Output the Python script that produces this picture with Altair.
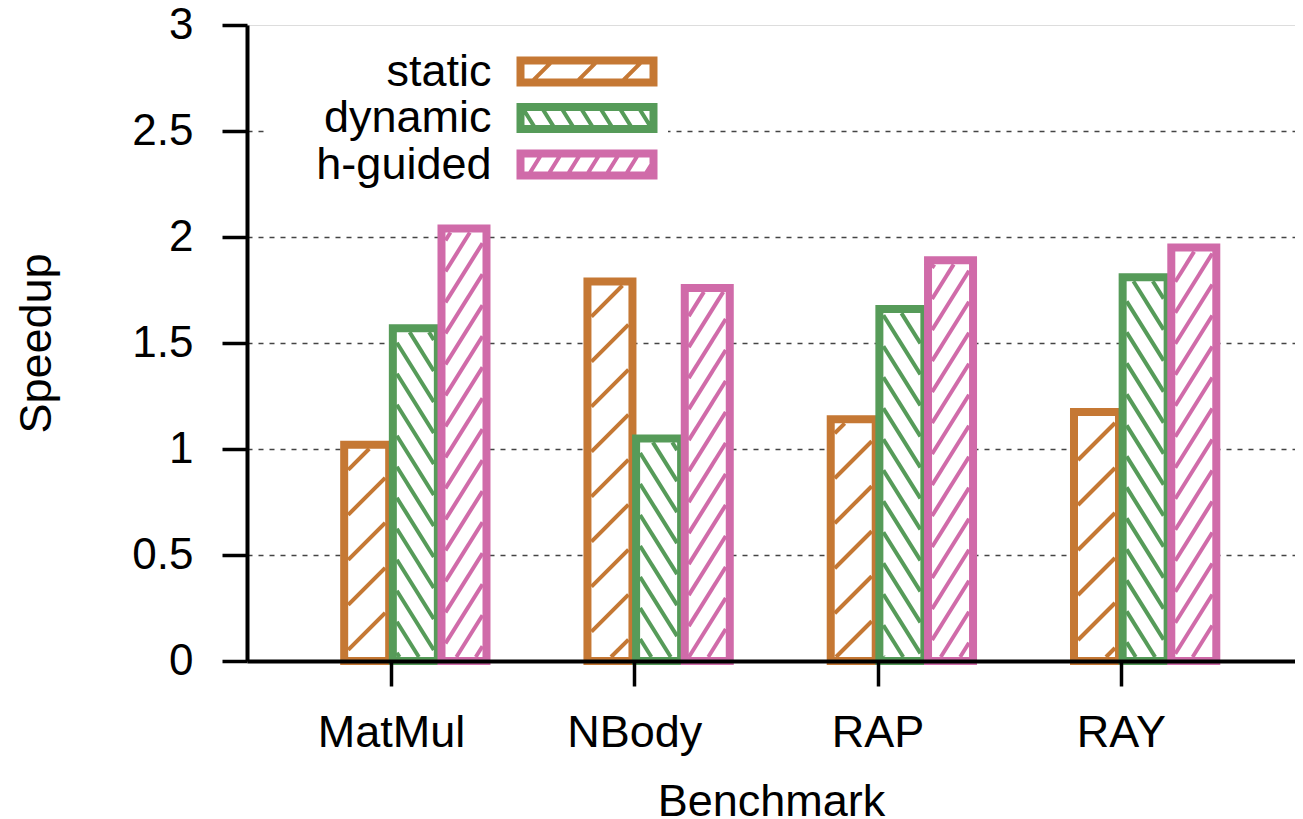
import math
import altair as alt
import pandas as pd

# ---------------- data ----------------
benchmarks = ["MatMul", "NBody", "RAP", "RAY"]
series = ["static", "dynamic", "h-guided"]
static_vals = [1.02, 1.79, 1.14, 1.175]
dynamic_vals = [1.57, 1.05, 1.66, 1.81]
hguided_vals = [2.04, 1.76, 1.89, 1.95]
colors = ["#C57834", "#569B59", "#D06BA9"]
y_ticks = [0, 0.5, 1, 1.5, 2, 2.5, 3]

# ---------------- layout / style ----------------
W, H = 1048, 636
XMIN, XMAX = -0.592, 3.716
YMAX = 3.0
KX = W / (XMAX - XMIN)
KY = H / YMAX
BAR_OFFSETS = [-0.1, 0.1, 0.3]
BAR_HALF = 22.5 / KX
SW = 8.0          # bar outline width (px)
HT = 4.0          # hatch line width (px)
FONT = "Liberation Sans"
FS = 45
FSY = 44
# hatch: (slope in px, Y-up; vertical spacing px; phase)
HATCH = {
    "static": (1.0, 45.0, 0.0),
    "dynamic": (-1.6, 31.0, 0.0),
    "h-guided": (1.6, 31.0, 10.0),
}

values = {"static": static_vals, "dynamic": dynamic_vals, "h-guided": hguided_vals}
color_of = dict(zip(series, colors))

rows = []
for i, b in enumerate(benchmarks):
    for j, s in enumerate(series):
        c = i + BAR_OFFSETS[j]
        rows.append({"bench": b, "series": s, "order": j, "col": color_of[s],
                     "x0": c - BAR_HALF, "x1": c + BAR_HALF,
                     "base": 0.0, "value": values[s][i]})
bars_df = pd.DataFrame(rows)


def hatch_segments(X0, X1, Y0, Y1, s, V, phase):
    segs = []
    cs = [Y0 - s * X0, Y0 - s * X1, Y1 - s * X0, Y1 - s * X1]
    cmin, cmax = min(cs), max(cs)
    k0 = math.floor((cmin - phase) / V) - 1
    k1 = math.ceil((cmax - phase) / V) + 1
    for k in range(k0, k1 + 1):
        c = phase + k * V
        xa, xb = (Y0 - c) / s, (Y1 - c) / s
        lo, hi = max(min(xa, xb), X0), min(max(xa, xb), X1)
        if hi - lo > 0.4:
            segs.append((lo, s * lo + c, hi, s * hi + c))
    return segs


hrows = []
for r in rows:
    X0 = (r["x0"] - XMIN) * KX + SW / 2
    X1 = (r["x1"] - XMIN) * KX - SW / 2
    Y0 = SW / 2
    Y1 = r["value"] * KY - SW / 2
    s, V, ph = HATCH[r["series"]]
    for (xa, ya, xb, yb) in hatch_segments(X0, X1, Y0, Y1, s, V, ph):
        hrows.append({"series": r["series"], "col": r["col"],
                      "xa": xa / KX + XMIN, "xb": xb / KX + XMIN,
                      "ya": ya / KY, "yb": yb / KY})
hatch_df = pd.DataFrame(hrows)


# ---------------- legend symbols (custom paths) ----------------
R = 15.0  # px per path unit (symbol size 900)


def clip_poly(poly, xmin, xmax, ymin, ymax):
    def clip(pts, inside, inter):
        out = []
        n = len(pts)
        for k in range(n):
            cur, prev = pts[k], pts[k - 1]
            if inside(cur):
                if not inside(prev):
                    out.append(inter(prev, cur))
                out.append(cur)
            elif inside(prev):
                out.append(inter(prev, cur))
        return out

    def ix(xc):
        return lambda p, q: (xc, p[1] + (q[1] - p[1]) * (xc - p[0]) / (q[0] - p[0]))

    def iy(yc):
        return lambda p, q: (p[0] + (q[0] - p[0]) * (yc - p[1]) / (q[1] - p[1]), yc)

    pts = poly
    for inside, inter in [
        (lambda p: p[0] >= xmin, ix(xmin)),
        (lambda p: p[0] <= xmax, ix(xmax)),
        (lambda p: p[1] >= ymin, iy(ymin)),
        (lambda p: p[1] <= ymax, iy(ymax)),
    ]:
        if not pts:
            break
        pts = clip(pts, inside, inter)
    return pts


def fmt(pts):
    return "M" + " L".join(f"{x / R:.3f} {y / R:.3f}" for x, y in pts) + " Z"


def legend_path(name):
    ow, oh, bw = 70.5, 15.0, 8.0
    iw, ih = ow - bw, oh - bw
    frame = [(-ow, -oh), (ow, -oh), (ow, oh), (-ow, oh)]
    hole = [(-iw, -ih), (-iw, ih), (iw, ih), (iw, -ih)]
    parts = [fmt(frame), fmt(hole)]
    s, V, ph = HATCH[name]
    hv = HT * math.sqrt(1 + s * s) / 2
    cmin = -ih - abs(s) * iw - 2 * hv
    cmax = ih + abs(s) * iw + 2 * hv
    k0, k1 = math.floor(cmin / V) - 1, math.ceil(cmax / V) + 1
    for k in range(k0, k1 + 1):
        c = ph + k * V
        xl, xr = -200.0, 200.0
        band = [(xl, -s * xl + c - hv), (xr, -s * xr + c - hv),
                (xr, -s * xr + c + hv), (xl, -s * xl + c + hv)]
        clipped = clip_poly(band, -iw - 0.01, iw + 0.01, -ih, ih)
        if len(clipped) >= 3:
            parts.append(fmt(clipped))
    return " ".join(parts)


shape_paths = [legend_path(s) for s in series]

# ---------------- chart ----------------
x_scale = alt.Scale(domain=[XMIN, XMAX], nice=False, zero=False)
y_scale = alt.Scale(domain=[0, YMAX], nice=False)

label_expr = "[" + ",".join(f"'{b}'" for b in benchmarks) + "][datum.value]"

x_axis = alt.Axis(
    values=[0, 1, 2, 3], labelExpr=label_expr, title="Benchmark", grid=False,
    domainColor="black", domainWidth=4, tickColor="black", tickWidth=3.5,
    tickSize=25, labelFont=FONT, labelFontSize=FS, labelColor="black",
    labelPadding=24, labelFlush=False, labelOverlap=False,
    titleFont=FONT, titleFontSize=FS, titleFontWeight="normal",
    titleColor="black", titlePadding=24, zindex=1,
)
y_axis = alt.Axis(
    values=y_ticks, format="~g", title="Speedup", grid=True,
    gridDash=[5, 6], gridColor="#444444", gridWidth=1.3,
    gridOpacity={"condition": {"test": "datum.value >= 3", "value": 0}, "value": 1},
    domainColor="black", domainWidth=4, tickColor="black", tickWidth=3.5,
    tickSize=25, labelFont=FONT, labelFontSize=FSY, labelColor="black",
    labelPadding=29, labelFlush=False, labelOverlap=False,
    titleFont=FONT, titleFontSize=FS, titleFontWeight="normal",
    titleColor="black", titlePadding=72, zindex=0,
)

bars = alt.Chart(bars_df).mark_bar(
    fill="white", strokeWidth=SW, strokeJoin="miter"
).encode(
    x=alt.X("x0:Q", scale=x_scale, axis=x_axis),
    x2="x1:Q",
    y=alt.Y("value:Q", scale=y_scale, axis=y_axis),
    y2="base:Q",
    stroke=alt.Stroke("col:N", scale=None),
    order=alt.Order("order:Q"),
)

hatch = alt.Chart(hatch_df).mark_rule(strokeWidth=HT).encode(
    x=alt.X("xa:Q", scale=x_scale, axis=x_axis),
    x2="xb:Q",
    y=alt.Y("ya:Q", scale=y_scale, axis=y_axis),
    y2="yb:Q",
    stroke=alt.Stroke("col:N", scale=None),
)

legend = alt.Legend(
    orient="none", legendX=18, legendY=14, title=None,
    labelFont=FONT, labelFontSize=FS, labelColor="black",
    labelAlign="right", labelBaseline="middle", labelOffset={"expr": "-118"},
    labelLimit=400, symbolOffset=289.5, symbolSize=900,
    symbolStrokeWidth=0, symbolOpacity=1, fillColor="white",
    padding=10, rowPadding=0.5,
)

keys = alt.Chart(bars_df).mark_point(
    filled=True, size=900, strokeWidth=0, opacity=0
).encode(
    color=alt.Color("series:N", scale=alt.Scale(domain=series, range=colors),
                    legend=legend),
    shape=alt.Shape("series:N", scale=alt.Scale(domain=series, range=shape_paths),
                    legend=legend),
)

chart = alt.layer(bars, hatch, keys).properties(
    width=W, height=H,
    autosize=alt.AutoSizeParams(type="none"),
    padding={"left": 239, "top": 17, "right": 0, "bottom": 158},
).configure_view(stroke=None).configure(background="white")

chart.save("out.html", embed_options={"renderer": "svg", "actions": False})
